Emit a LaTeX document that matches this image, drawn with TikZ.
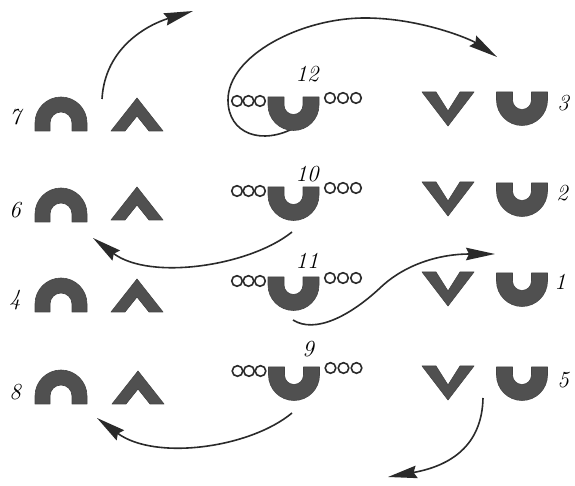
\documentclass[tikz,border=0pt]{standalone}
\usetikzlibrary{arrows.meta}
\definecolor{ink}{HTML}{2A2A2A}
\definecolor{fillg}{HTML}{505050}
\tikzset{
  piece/.style={fill=fillg, draw=fillg!85!black, line width=0.6pt, line join=round},
  bead/.style={draw=ink, fill=white, line width=1.6pt},
  conn/.style={draw=ink, line width=1.6pt, -{Stealth[length=29pt,width=12.5pt,inset=3pt]}},
  lbl/.style={font=\fontsize{23}{23}\selectfont\itshape, inner sep=0pt, text=black},
  archpic/.pic={\path[piece] (-26,-34) -- (-26,-26) arc[start angle=180,end angle=0,radius=26pt] -- (26,-34) -- (11,-34) -- (11,-26) arc[start angle=0,end angle=180,radius=11pt] -- (-11,-34) -- cycle;},
  caretpic/.pic={\path[piece] (-26,-33) -- (0,0) -- (26,-33) -- (12,-33) -- (0,-18) -- (-12,-33) -- cycle;},
  veepic/.pic={\path[piece] (-26,0) -- (0,-34) -- (26,0) -- (12,0) -- (0,-19) -- (-12,0) -- cycle;},
  cuppic/.pic={\path[piece] (-25.5,0) -- (-25.5,-8) arc[start angle=180,end angle=360,radius=25.5pt] -- (25.5,0) -- (9.5,0) -- (9.5,-8) arc[start angle=360,end angle=180,radius=9.5pt] -- (-9.5,0) -- cycle;},
  beadspic/.pic={
    \draw[bead] (-56.5,-4) circle[radius=5.3pt];
    \draw[bead] (-45,-4) circle[radius=5.3pt];
    \draw[bead] (-33.5,-4) circle[radius=5.3pt];
    \draw[bead] (36.5,-1) circle[radius=5.3pt];
    \draw[bead] (49.5,-1) circle[radius=5.3pt];
    \draw[bead] (62.5,-1) circle[radius=5.3pt];}
}
\begin{document}
\begin{tikzpicture}[x=1pt,y=1pt]
\path[fill=white] (0,0) rectangle (575,486);
\useasboundingbox (0,0) rectangle (575,486);

% connector end points
\coordinate (a1) at (102,387); \coordinate (a2) at (193,475);
\coordinate (b1) at (296,359); \coordinate (b2) at (497,429);
\coordinate (c1) at (292,254); \coordinate (c2) at (93,248);
\coordinate (d1) at (293,166); \coordinate (d2) at (495,232);
\coordinate (e1) at (292,73);  \coordinate (e2) at (97,68);
\coordinate (f1) at (483,88);  \coordinate (f2) at (388,9);

% connectors
\draw[conn] (a1) .. controls (105,440) and (150,462) .. (a2);
\draw[conn] (b1) .. controls (262,340) and (228,352) .. (228,386)
  .. controls (228,430) and (300,468) .. (365,468)
  .. controls (420,468) and (470,447) .. (b2);
\draw[conn] (c1) .. controls (250,220) and (150,205) .. (c2);
\draw[conn] (d1) .. controls (315,152) and (350,170) .. (380,198)
  .. controls (405,222) and (440,232) .. (d2);
\draw[conn] (e1) .. controls (250,38) and (155,25) .. (e2);
\draw[conn] (f1) .. controls (482,40) and (450,20) .. (f2);

% row 1
\pic at (61,389) {archpic};
\pic at (137,388) {caretpic};
\pic at (293.5,389) {beadspic};
\pic at (293.5,389) {cuppic};
\pic at (448,394) {veepic};
\pic at (522,394) {cuppic};
% row 2
\pic at (61,298) {archpic};
\pic at (137,299) {caretpic};
\pic at (293.5,299) {beadspic};
\pic at (293.5,299) {cuppic};
\pic at (448,304) {veepic};
\pic at (522,303) {cuppic};
% row 3
\pic at (61,208) {archpic};
\pic at (137,207) {caretpic};
\pic at (293.5,209) {beadspic};
\pic at (293.5,209) {cuppic};
\pic at (448,214) {veepic};
\pic at (522,213) {cuppic};
% row 4
\pic at (61,116) {archpic};
\pic at (138,115) {caretpic};
\pic at (294,119) {beadspic};
\pic at (294,119) {cuppic};
\pic at (448,120) {veepic};
\pic at (522,119) {cuppic};

% labels
\node[lbl] (l7) at (15,369) {7};
\node[lbl] (l6) at (15,276) {6};
\node[lbl] (l4) at (15,186) {4};
\node[lbl] (l8) at (15,94) {8};
\node[lbl] (l12) at (307,412) {12};
\node[lbl] (l10) at (307,312) {10};
\node[lbl] (l11) at (307,225) {11};
\node[lbl] (l9) at (308,137) {9};
\node[lbl] (l3) at (563,383) {3};
\node[lbl] (l2) at (562,293) {2};
\node[lbl] (l1) at (560,204) {1};
\node[lbl] (l5) at (563,106) {5};
\end{tikzpicture}
\end{document}
